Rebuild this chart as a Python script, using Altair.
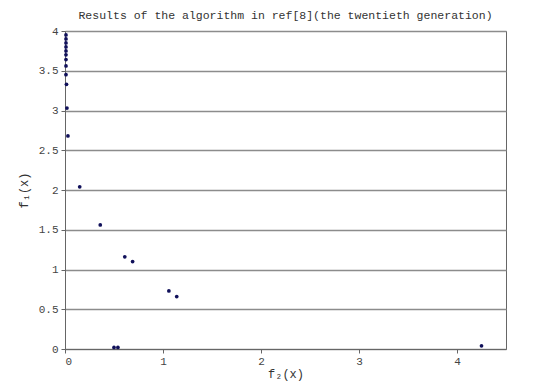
import altair as alt
import pandas as pd

f2 = [0.01, 0.01, 0.01, 0.01, 0.01, 0.01, 0.01, 0.01, 0.01, 0.015, 0.02, 0.03,
      0.15, 0.36, 0.61, 0.69, 1.06, 1.14, 0.50, 0.54, 4.25]
f1 = [3.95, 3.90, 3.85, 3.80, 3.75, 3.70, 3.64, 3.56, 3.45, 3.33, 3.03, 2.68,
      2.04, 1.56, 1.16, 1.10, 0.73, 0.66, 0.02, 0.02, 0.04]

y_ticks = [0, 0.5, 1, 1.5, 2, 2.5, 3, 3.5, 4]
x_ticks = [0, 1, 2, 3, 4]

df = pd.DataFrame({"f2": f2, "f1": f1})

font = "Liberation Mono"

chart = alt.Chart(df).mark_circle(
    size=14, color="#10105a", opacity=1
).encode(
    x=alt.X("f2:Q", scale=alt.Scale(domain=[0, 4.5], nice=False, zero=False),
            axis=alt.Axis(values=x_ticks, title="f₂(x)", grid=False, format="~g",
                          tickSize=4, labelPadding=2, titlePadding=2)),
    y=alt.Y("f1:Q", scale=alt.Scale(domain=[0, 4], nice=False),
            axis=alt.Axis(values=y_ticks, title="f₁(x)", grid=True, format="~g",
                          tickSize=4, labelPadding=3, titlePadding=8)),
).properties(
    width=441,
    height=318,
    autosize=alt.AutoSizeParams(type="none"),
    padding={"left": 57, "top": 23, "right": 30, "bottom": 33},
    title=alt.TitleParams(
        "Results of the algorithm in ref[8](the twentieth generation)",
        font=font, fontSize=11.5, fontWeight="normal", color="#333333",
        anchor="middle", offset=4,
    ),
).configure_view(
    stroke="#666666", strokeWidth=1
).configure_axis(
    labelFont=font, titleFont=font, labelFontSize=11, titleFontSize=12,
    titleFontWeight="normal", labelColor="#444444", titleColor="#333333",
    domainColor="#666666", tickColor="#666666",
    gridColor="#8c8c8c", gridWidth=1.5, gridOpacity=1,
)

chart.save("out.html", embed_options={"renderer": "svg", "actions": False})
